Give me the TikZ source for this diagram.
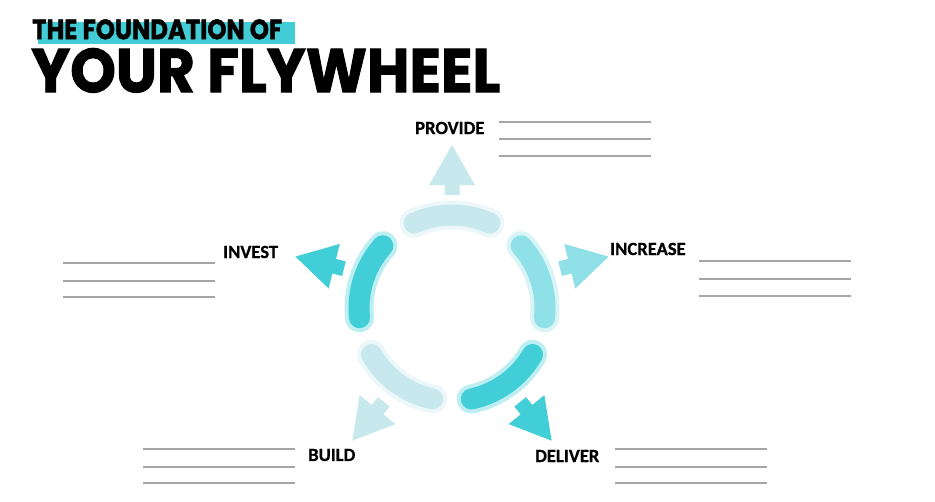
\documentclass[tikz,border=0pt]{standalone}
\usepackage{fontspec}
\newfontfamily\titlefont{Poppins}[BoldFeatures={FakeBold=1.6}]
\newfontfamily\labelfont{Carlito}[BoldFeatures={FakeBold=0.6}]
\usetikzlibrary{calc}
\definecolor{tealdark}{HTML}{42CED7}
\definecolor{tealmid}{HTML}{8FE1E7}
\definecolor{teallight}{HTML}{C7E9EE}
\definecolor{highlight}{HTML}{42CDD6}
\definecolor{rulegray}{HTML}{A6A6A6}
\tikzset{
  lbl/.style={inner sep=0pt, anchor=west, font=\labelfont\bfseries\fontsize{18.6}{20}\selectfont},
  writeline/.style={draw=rulegray, line width=1.3pt},
  flyarrow/.pic={\fill[pic actions] (0,-7.5) -- (10,-7.5) -- (10,-23) -- (50,0) -- (10,23) -- (10,7.5) -- (0,7.5) -- cycle;}
}
\newcommand\flyseg[2]{%
  \draw[line width=29pt, line cap=round, draw=#2!35!white] ($(C)+(#1-24:93)$) arc[start angle=#1-24, end angle=#1+24, radius=93];
  \draw[line width=21pt, line cap=round, draw=#2] ($(C)+(#1-24:93)$) arc[start angle=#1-24, end angle=#1+24, radius=93];
}
\begin{document}
\begin{tikzpicture}[x=1pt,y=1pt]
\useasboundingbox (0,0) rectangle (935,-501);
\fill[white] (0,0) rectangle (935,-501);
\coordinate (C) at (452,-308);
% title
\fill[highlight] (38,-22) rectangle (295,-44);
\node[anchor=north west, inner sep=0pt] (t1) at (32,-19) {\resizebox{250pt}{20pt}{\titlefont\bfseries THE FOUNDATION OF}};
\node[anchor=north west, inner sep=0pt] (t2) at (31,-48) {\resizebox{469pt}{44pt}{\titlefont\bfseries YOUR FLYWHEEL}};
% wheel segments
\flyseg{90}{teallight}
\flyseg{162}{tealdark}
\flyseg{18}{tealmid}
\flyseg{234}{teallight}
\flyseg{306}{tealdark}
% arrows
\path ($(C)+(90:113)$) pic[rotate=90, fill=teallight] {flyarrow};
\path ($(C)+(160:115)$) pic[rotate=166, fill=tealdark] {flyarrow};
\path ($(C)+(20:115)$) pic[rotate=14, fill=tealmid] {flyarrow};
\path ($(C)+(234:116)$) pic[rotate=231, fill=teallight] {flyarrow};
\path ($(C)+(306:116)$) pic[rotate=309, fill=tealdark] {flyarrow};
% labels
\node[lbl] (provide) at (415,-128) {PROVIDE};
\node[lbl] (invest) at (223,-252) {INVEST};
\node[lbl] (increase) at (610,-249) {INCREASE};
\node[lbl] (build) at (308,-455) {BUILD};
\node[lbl] (deliver) at (535,-456) {DELIVER};
% writing lines
\foreach \y in {122,139,156} \draw[writeline] (499,-\y) -- (651,-\y);
\foreach \y in {263,281,297} \draw[writeline] (63,-\y) -- (215,-\y);
\foreach \y in {261,279,296} \draw[writeline] (699,-\y) -- (851,-\y);
\foreach \y in {449,467,483} \draw[writeline] (143,-\y) -- (295,-\y);
\foreach \y in {449,467,483} \draw[writeline] (615,-\y) -- (767,-\y);
\end{tikzpicture}
\end{document}
